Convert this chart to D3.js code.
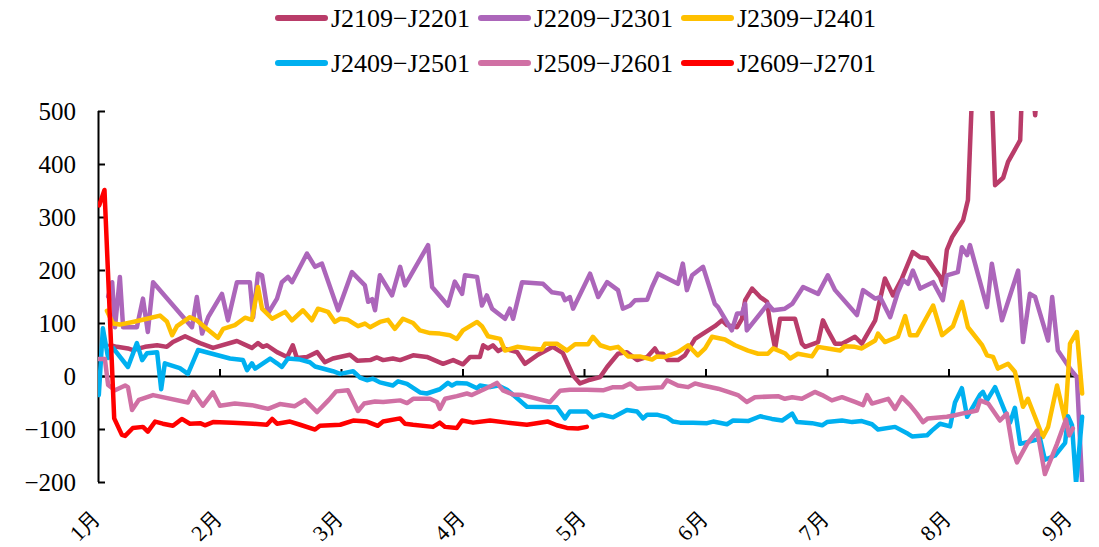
<!DOCTYPE html>
<html><head><meta charset="utf-8">
<script src="https://cdn.jsdelivr.net/npm/d3@7"></script>
<style>
html,body{margin:0;padding:0;background:#fff;}
svg{display:block;}
</style></head>
<body>
<svg id="chart" width="1099" height="547"></svg>
<script>
// x = day index on a 30-day-per-month axis (0 = 1月 start, 240 = 9月 start)
const monthLabels = ["1月","2月","3月","4月","5月","6月","7月","8月","9月"];
const monthStarts = [0,30,60,90,120,150,180,210,240];
const yTicks = [-200,-100,0,100,200,300,400,500];
const seriesNames = ["J2109−J2201","J2209−J2301","J2309−J2401","J2409−J2501","J2509−J2601","J2609−J2701"];
const seriesColors = ["#B93C69","#AC66BA","#FFC000","#00B0F0","#D070A4","#FF0000"];

const j2109 = [[3.0,58],[4.7,55],[7.4,52],[8.6,49],[11.6,55],[14.6,58],[17.0,55],[18.5,64],[21.5,75],[23.5,68],[25.2,62],[28.4,53],[34.3,66],[38.0,53],[39.5,62],[40.7,55],[41.7,58],[44.2,45],[46.7,36],[48.1,58],[49.1,34],[51.6,36],[54.1,45],[56.0,26],[58.0,33],[62.2,40],[64.0,29],[67.2,30],[68.9,35],[70.4,30],[72.8,33],[74.6,30],[77.8,39],[81.2,36],[85.2,23],[87.7,30],[90.1,22],[91.9,36],[94.3,36],[95.1,58],[96.3,52],[97.5,58],[98.8,47],[100.0,52],[103.5,45],[105.4,23],[108.4,39],[112.3,55],[114.8,43],[117.3,1],[119.0,-14],[121.5,-7],[124.0,-2],[125.7,17],[128.4,42],[130.6,45],[133.1,30],[135.6,36],[137.5,52],[138.3,42],[139.5,42],[140.7,30],[143.2,30],[144.9,39],[147.4,70],[149.4,80],[152.3,94],[154.1,105],[155.3,96],[157.8,92],[159.0,108],[159.8,143],[161.5,165],[163.5,149],[165.2,140],[165.9,102],[167.2,52],[168.4,108],[172.1,108],[173.8,61],[174.6,55],[177.8,64],[179.0,105],[180.2,86],[182.0,61],[183.7,61],[185.2,67],[186.9,74],[188.6,61],[191.9,105],[194.3,184],[196.3,152],[198.5,184],[201.2,234],[203.0,224],[204.7,222],[207.9,187],[208.6,172],[209.6,238],[210.9,262],[213.6,294],[214.8,332],[215.8,530],[217.8,700],[220.7,530],[221.5,360],[223.5,374],[224.7,404],[227.7,445],[228.1,530],[230.1,600],[231.4,492],[232.6,600],[235.1,700]];

const j2209 = [[2.5,150],[3.5,177],[4.2,92],[5.4,187],[6.2,92],[9.6,92],[11.1,146],[12.3,83],[13.6,177],[23.2,92],[24.4,149],[25.7,80],[27.2,111],[30.6,155],[32.1,105],[34.3,177],[37.5,177],[38.3,111],[39.5,193],[40.5,190],[42.0,118],[44.2,146],[45.4,177],[46.9,187],[47.9,177],[51.6,231],[53.6,206],[55.3,212],[59.3,124],[62.7,196],[65.9,171],[66.7,140],[67.7,145],[68.4,124],[69.6,190],[72.6,152],[74.6,206],[75.8,171],[81.5,247],[82.5,168],[86.4,133],[88.1,178],[89.9,155],[90.6,190],[93.6,187],[94.8,133],[96.0,152],[97.3,127],[100.5,108],[101.7,127],[102.5,108],[104.7,177],[109.9,174],[112.1,158],[114.6,155],[115.3,143],[116.5,149],[117.3,127],[121.5,193],[123.5,149],[125.7,177],[128.4,162],[129.6,127],[131.4,133],[132.6,143],[135.6,144],[136.8,168],[138.3,193],[143.2,174],[144.4,212],[145.4,162],[146.7,190],[149.4,206],[152.3,136],[153.1,130],[156.5,86],[157.8,118],[159.0,118],[159.8,136],[160.2,86],[165.4,136],[166.7,124],[169.6,127],[171.4,136],[174.1,168],[177.8,155],[180.2,190],[182.0,162],[187.4,115],[188.9,162],[191.9,146],[193.1,149],[195.6,111],[197.5,158],[198.8,181],[200.0,174],[201.2,199],[203.0,165],[206.2,177],[208.6,143],[209.6,190],[212.3,196],[213.3,243],[214.6,228],[215.3,247],[219.5,130],[220.7,212],[223.2,105],[227.2,199],[228.4,64],[230.1,155],[231.4,149],[234.6,67],[235.6,149],[237.0,48],[240.0,14],[241.7,-2],[243.0,-203]];

const j2309 = [[2.2,123],[3.7,99],[5.4,97],[8.6,102],[12.1,108],[15.3,114],[17.0,103],[18.3,77],[19.5,94],[22.7,111],[24.4,105],[26.4,92],[29.6,72],[30.9,89],[33.8,96],[36.3,110],[38.0,106],[39.5,168],[40.5,127],[43.0,108],[46.2,121],[47.9,105],[50.6,124],[52.8,105],[54.3,127],[56.8,121],[58.5,102],[59.8,108],[61.7,106],[64.2,94],[65.9,99],[67.2,92],[69.6,102],[71.6,106],[73.3,89],[75.3,108],[77.8,100],[79.5,86],[82.0,81],[84.4,80],[86.9,77],[88.6,70],[90.1,86],[93.6,102],[94.8,94],[96.3,75],[99.3,70],[100.5,48],[103.5,55],[106.7,52],[109.6,50],[110.4,61],[113.3,61],[115.8,48],[117.8,60],[121.0,60],[122.2,74],[124.0,58],[126.4,52],[128.4,55],[130.9,37],[133.8,37],[136.8,31],[138.0,37],[140.0,36],[143.2,45],[145.7,58],[148.1,39],[149.9,52],[151.6,74],[154.8,69],[157.3,58],[160.5,48],[163.0,42],[165.4,42],[166.7,52],[169.6,43],[170.9,33],[172.8,42],[176.3,37],[177.8,55],[180.2,52],[183.2,48],[184.4,56],[186.9,55],[188.6,52],[191.9,67],[192.6,80],[194.3,64],[197.5,74],[199.3,113],[200.5,77],[202.2,77],[206.2,133],[208.4,77],[211.1,94],[213.3,140],[214.8,92],[218.3,58],[219.5,39],[221.0,36],[222.2,14],[224.7,23],[226.4,8],[228.4,-58],[229.6,-43],[233.3,-115],[234.6,-96],[236.8,-18],[238.8,-84],[240.0,61],[241.7,83],[243.0,-33]];

const j2409 = [[0.2,-36],[1.2,90],[2.5,34],[3.7,53],[7.4,17],[9.6,62],[10.9,30],[12.1,43],[14.6,45],[15.6,-25],[16.5,24],[20.2,15],[22.2,4],[24.7,49],[32.6,33],[35.8,30],[36.8,11],[38.0,24],[38.8,14],[42.5,33],[44.2,24],[45.4,17],[46.9,33],[49.9,31],[52.3,26],[53.6,18],[58.0,9],[59.8,4],[63.0,9],[64.7,-3],[66.4,-8],[67.9,-5],[69.6,-12],[72.8,-18],[74.1,-10],[76.3,-15],[79.5,-31],[81.2,-33],[84.4,-25],[86.4,-13],[87.4,-18],[88.6,-13],[91.1,-14],[93.6,-23],[94.3,-18],[96.8,-21],[98.8,-18],[101.0,-26],[103.5,-42],[105.9,-58],[113.3,-59],[115.3,-80],[116.5,-67],[120.7,-67],[122.2,-78],[124.4,-73],[127.2,-78],[130.6,-64],[133.1,-67],[134.6,-80],[135.6,-73],[138.0,-73],[140.5,-78],[142.0,-86],[143.7,-88],[146.9,-88],[150.4,-89],[151.9,-86],[155.3,-91],[156.8,-84],[160.5,-85],[163.5,-76],[166.4,-81],[168.9,-84],[171.4,-71],[172.6,-87],[176.3,-89],[178.8,-93],[180.0,-87],[183.7,-84],[186.2,-87],[188.6,-85],[191.1,-91],[192.6,-101],[196.8,-96],[200.0,-109],[201.0,-114],[204.7,-112],[205.9,-103],[207.9,-90],[210.4,-95],[211.6,-50],[213.3,-23],[214.6,-77],[217.8,-35],[218.5,-30],[219.5,-46],[221.5,-21],[224.0,-68],[225.2,-88],[226.4,-60],[227.7,-128],[230.9,-122],[232.6,-118],[233.8,-158],[236.3,-150],[238.8,-126],[239.5,-76],[240.5,-93],[241.5,-203],[243.0,-77]];

const j2509 = [[0.2,32],[1.7,32],[2.5,-17],[4.2,-27],[6.7,-18],[7.4,-21],[8.4,-64],[10.1,-45],[13.6,-36],[22.2,-50],[23.5,-30],[25.9,-56],[28.4,-31],[30.1,-56],[33.8,-52],[38.0,-55],[42.0,-62],[44.9,-53],[48.6,-57],[51.1,-45],[54.1,-68],[57.0,-45],[58.8,-29],[61.7,-27],[64.2,-66],[65.7,-52],[68.4,-48],[70.4,-49],[74.6,-46],[76.3,-51],[77.8,-43],[82.0,-43],[83.7,-49],[84.4,-62],[85.7,-43],[88.6,-38],[91.1,-33],[92.3,-36],[95.6,-24],[97.3,-18],[98.5,-13],[100.0,-27],[102.5,-35],[104.9,-36],[111.6,-49],[114.1,-28],[116.5,-26],[120.7,-26],[124.7,-27],[127.2,-21],[129.6,-21],[131.4,-14],[133.1,-24],[139.3,-21],[140.5,-8],[143.2,-18],[145.7,-21],[147.4,-14],[149.4,-18],[153.1,-24],[155.6,-30],[158.0,-36],[160.2,-49],[162.2,-40],[167.9,-38],[169.6,-43],[171.4,-40],[173.8,-43],[177.0,-30],[178.8,-36],[181.2,-46],[183.7,-40],[186.9,-49],[188.9,-55],[189.9,-36],[191.1,-52],[195.1,-43],[196.8,-62],[198.5,-40],[200.5,-55],[202.2,-71],[203.7,-87],[204.9,-80],[209.6,-77],[211.6,-74],[213.3,-71],[215.3,-68],[217.0,-65],[217.8,-46],[219.8,-52],[222.7,-84],[224.4,-71],[225.9,-140],[226.9,-163],[229.4,-128],[231.9,-103],[233.8,-185],[236.8,-128],[239.0,-82],[239.8,-112],[240.7,-99]];

const j2609 = [[0.3,322],[1.6,351],[4.0,-80],[5.9,-111],[6.7,-113],[8.6,-98],[11.1,-96],[12.3,-105],[14.1,-86],[16.0,-90],[18.5,-94],[20.7,-81],[22.7,-90],[25.2,-89],[26.4,-93],[28.4,-87],[33.3,-88],[38.3,-90],[41.7,-92],[43.0,-81],[44.2,-90],[47.4,-86],[49.9,-92],[53.6,-101],[54.8,-94],[59.8,-92],[63.0,-84],[66.4,-86],[69.1,-94],[70.4,-86],[74.6,-80],[75.8,-90],[77.8,-92],[82.7,-96],[84.4,-88],[85.7,-96],[88.6,-98],[89.9,-84],[92.6,-88],[96.8,-84],[101.0,-88],[105.9,-92],[111.1,-86],[113.3,-93],[115.8,-98],[118.5,-99],[120.7,-96]];

const seriesData = [j2109, j2209, j2309, j2409, j2509, j2609];

const svg = d3.select("#chart");
const serif = '"Liberation Serif"';

const x = d3.scaleLinear().domain([0, 240]).range([98, 1070]);
const y = d3.scaleLinear().domain([-200, 500]).range([482, 111]);
const xEnd = x(243);

svg.append("defs").append("clipPath").attr("id","plotclip")
  .append("rect").attr("x", x(0)).attr("y", y(500)).attr("width", xEnd - x(0) + 4).attr("height", y(-200) - y(500));

// y axis
const yAxis = d3.axisRight(y).tickValues(yTicks).tickSize(7).tickFormat("");
const gy = svg.append("g").attr("transform", `translate(${x(0)},0)`).call(yAxis);
gy.select(".domain").attr("stroke","#000").attr("stroke-width",2).attr("d", `M0.5,${y(500)}V${y(-200)}`);
gy.selectAll(".tick line").attr("stroke","#000").attr("stroke-width",2);
svg.append("g").selectAll("text").data(yTicks).join("text")
  .style("font-family", serif)
  .attr("x", 76).attr("y", d => y(d)).attr("dy","0.35em")
  .attr("text-anchor","end").attr("font-size", 25).attr("fill","#000")
  .text(d => d < 0 ? "\u2212" + Math.abs(d) : d);

// x axis at zero
const xAxis = d3.axisTop(x).tickValues(monthStarts.slice(1)).tickSize(7).tickFormat("");
const gx = svg.append("g").attr("transform", `translate(0,${y(0)})`).call(xAxis);
gx.select(".domain").attr("stroke","#000").attr("stroke-width",2).attr("d", `M${x(0)},0.5H${xEnd}`);
gx.selectAll(".tick line").attr("stroke","#000").attr("stroke-width",2);

svg.append("g").selectAll("text").data(monthStarts).join("text")
  .style("font-family", serif)
  .attr("transform", (d) => `translate(${x(d)+4},519) rotate(-45)`)
  .attr("text-anchor","end").attr("font-size", 22).attr("fill","#000")
  .text((d,i) => monthLabels[i]);

// lines
const line = d3.line().x(d => x(d[0])).y(d => y(d[1]));
const gl = svg.append("g").attr("clip-path","url(#plotclip)");
seriesData.forEach((s, i) => {
  gl.append("path").datum(s).attr("d", line)
    .attr("fill","none").attr("stroke", seriesColors[i]).attr("stroke-width", 4.5)
    .attr("stroke-linejoin","round").attr("stroke-linecap","round");
});

// legend
const legendRows = [18, 63];
const legendStartX = 275;
seriesNames.forEach((name, i) => {
  const row = Math.floor(i / 3), col = i % 3;
  const xx = legendStartX + col * 203;
  const yy = legendRows[row];
  svg.append("line").attr("x1", xx + 3).attr("x2", xx + 50).attr("y1", yy).attr("y2", yy)
    .attr("stroke", seriesColors[i]).attr("stroke-width", 6).attr("stroke-linecap","round");
  svg.append("text").style("font-family", serif).attr("x", xx + 56).attr("y", yy).attr("dy","0.34em")
    .attr("font-size", 26).attr("fill","#000").text(name);
});
</script>
</body></html>
